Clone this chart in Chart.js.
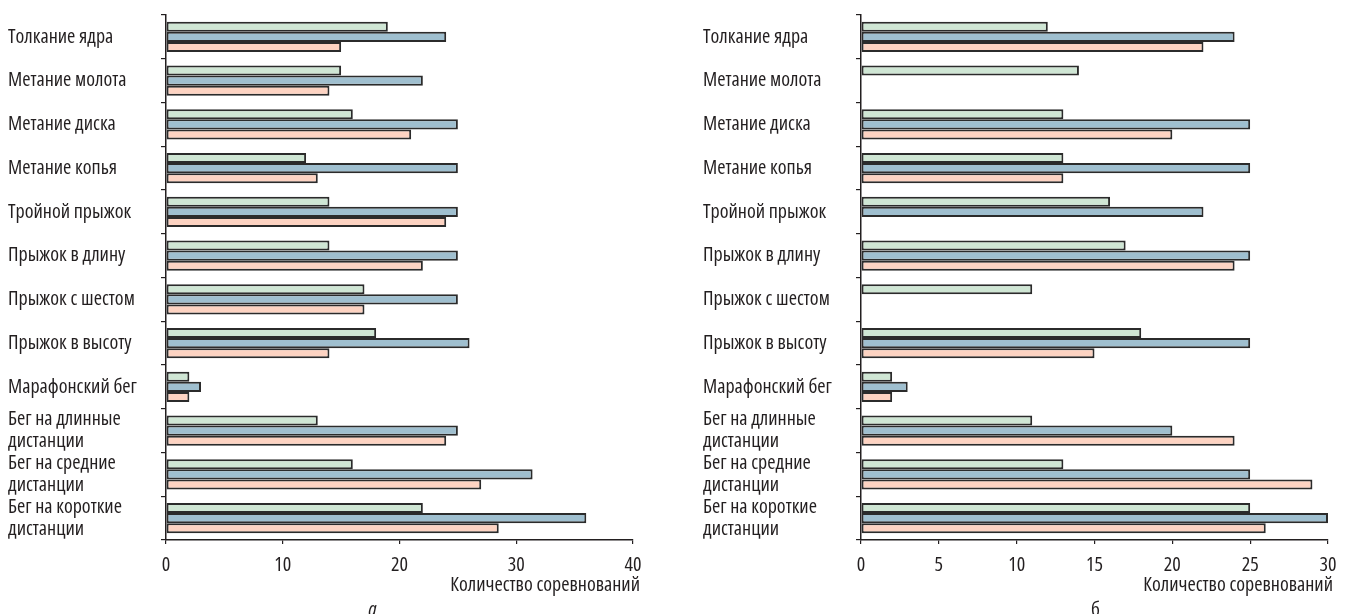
<!DOCTYPE html>
<html>
<head>
<meta charset="utf-8">
<script src="https://cdn.jsdelivr.net/npm/chart.js@4.4.0/dist/chart.umd.min.js"></script>
<style>
  body { margin: 0; background: #fff; }
  .box { position: absolute; top: 0; height: 614px; }
  #boxA { left: 0; width: 670px; }
  #boxB { left: 690px; width: 656px; }
</style>
</head>
<body>
<div class="box" id="boxA"><canvas id="chartA"></canvas></div>
<div class="box" id="boxB"><canvas id="chartB"></canvas></div>
<script>
// categories, top to bottom
const events = [
  'Толкание ядра',
  'Метание молота',
  'Метание диска',
  'Метание копья',
  'Тройной прыжок',
  'Прыжок в длину',
  'Прыжок с шестом',
  'Прыжок в высоту',
  'Марафонский бег',
  ['Бег на длинные', 'дистанции'],
  ['Бег на средние', 'дистанции'],
  ['Бег на короткие', 'дистанции']
];

// panel а
const greenA = [19, 15, 16, 12, 14, 14, 17, 18, 2, 13, 16, 22];
const blueA  = [24, 22, 25, 25, 25, 25, 25, 26, 3, 25, 31.4, 36];
const pinkA  = [15, 14, 21, 13, 24, 22, 17, 14, 2, 24, 27, 28.5];

// panel б (null = no bar)
const greenB = [12, 14, 13, 13, 16, 17, 11, 18, 2, 11, 13, 25];
const blueB  = [24, null, 25, 25, 22, 25, null, 25, 3, 20, 25, 30];
const pinkB  = [22, null, 20, 13, null, 24, null, 15, 2, 24, 29, 26];

const ticksA = { max: 40, step: 10 };
const ticksB = { max: 30, step: 5 };

const axisTitle = 'Количество соревнований';
const FAMILY = "'Open Sans', 'DejaVu Sans Condensed', sans-serif";
// chart.js puts "weight" in front of the size, so this gives the condensed face
const STRETCH = 'condensed';
const INK = '#231f20';

// axis title (right aligned, a bit past the last tick) and the panel letter
const captions = {
  id: 'captions',
  afterDraw(chart, args, opts) {
    const { ctx, chartArea } = chart;
    ctx.save();
    ctx.fillStyle = INK;
    ctx.font = STRETCH + ' 20px ' + FAMILY;
    ctx.textAlign = 'right';
    ctx.textBaseline = 'middle';
    ctx.fillText(axisTitle, chartArea.right + opts.titleShift, 585);
    ctx.font = (opts.italic ? 'italic ' : '') + STRETCH + ' 20px ' + FAMILY;
    ctx.textAlign = 'center';
    ctx.textBaseline = 'alphabetic';
    ctx.fillText(opts.letter, (chartArea.left + chartArea.right) / 2 + opts.letterShift, 616);
    ctx.restore();
  }
};

function makeChart(id, green, blue, pink, tk, cap, yWidth, pad) {
  const mk = (label, data, color) => ({
    label: label,
    data: data,
    backgroundColor: color,
    borderColor: '#2b2b2b',
    borderWidth: 2,
    borderSkipped: false,
    categoryPercentage: 0.69,
    barPercentage: 1.0
  });
  return new Chart(document.getElementById(id), {
    type: 'bar',
    data: {
      labels: events,
      datasets: [
        mk('ряд 1', green, '#cfe6d4'),
        mk('ряд 2', blue, '#9fbfcf'),
        mk('ряд 3', pink, '#fdd3c2')
      ]
    },
    plugins: [captions],
    options: {
      indexAxis: 'y',
      responsive: true,
      maintainAspectRatio: false,
      animation: false,
      layout: { padding: pad },
      plugins: {
        legend: { display: false },
        tooltip: { enabled: false },
        captions: cap
      },
      scales: {
        y: {
          afterFit: (s) => { s.width = yWidth; s.paddingTop = 0; s.paddingBottom = 0; },
          grid: { offset: true, drawOnChartArea: false, tickLength: 5, color: INK, lineWidth: 1.2 },
          border: { color: INK, width: 1.5 },
          ticks: {
            autoSkip: false,
            crossAlign: 'far',
            color: INK,
            font: { family: FAMILY, weight: STRETCH, size: 20, lineHeight: 1.1 },
            padding: 4
          }
        },
        x: {
          min: 0,
          max: tk.max,
          afterFit: (s) => { s.height = 56; s.paddingLeft = 0; s.paddingRight = 0; },
          grid: { drawOnChartArea: false, tickLength: 4, color: INK, lineWidth: 1.2 },
          border: { color: INK, width: 1.5 },
          ticks: {
            stepSize: tk.step,
            color: INK,
            font: { family: FAMILY, weight: STRETCH, size: 20, lineHeight: 1.1 },
            padding: 10,
            maxRotation: 0
          }
        }
      }
    }
  });
}

makeChart('chartA', greenA, blueA, pinkA, ticksA, { letter: 'а', italic: true, letterShift: -27, titleShift: 7 }, 158,
  { left: 8, right: 37, top: 15, bottom: 18 });
makeChart('chartB', greenB, blueB, pinkB, ticksB, { letter: 'б', italic: false, letterShift: 1, titleShift: 5 }, 158,
  { left: 13, right: 18, top: 15, bottom: 18 });
</script>
</body>
</html>
